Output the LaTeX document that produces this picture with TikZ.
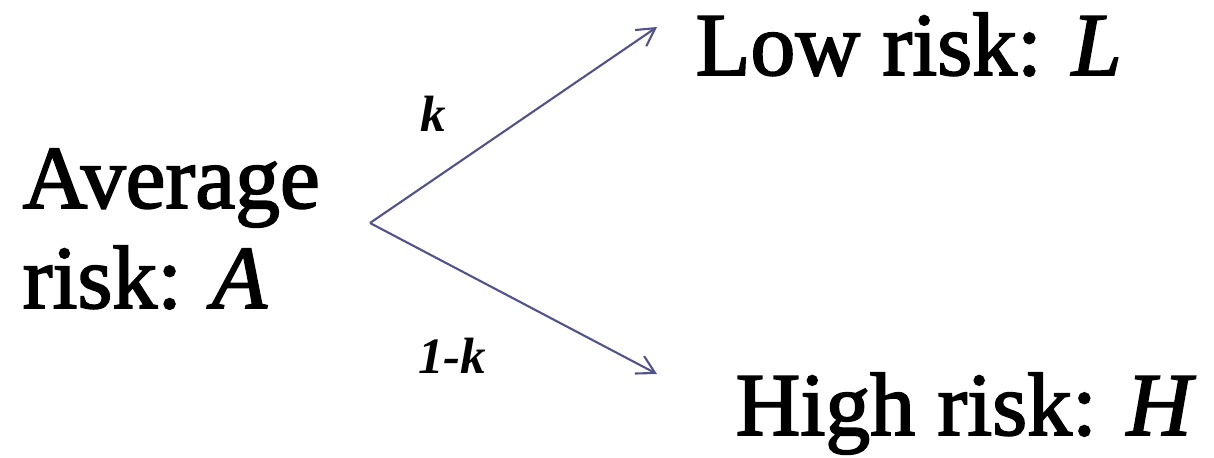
\documentclass[tikz,border=0pt]{standalone}
\usepackage{fontspec}
\setmainfont{Liberation Serif}
\usetikzlibrary{arrows.meta}
\definecolor{arrowblue}{RGB}{82,82,140}
\tikzset{
  big/.style={font=\fontsize{25.5}{28.45}\selectfont\addfontfeature{FakeBold=2}, inner sep=0pt, align=left},
  prob/.style={font=\fontsize{14.5}{17}\selectfont\bfseries\itshape, inner sep=0pt},
  branch/.style={draw=arrowblue, line width=0.6pt, -{Straight Barb[length=5pt,width=5.6pt,line width=0.6pt]}}
}
\begin{document}
\begin{tikzpicture}[x=0.01cm,y=-0.01cm]
\useasboundingbox (0,0) rectangle (1214,458);
\node[big, anchor=base west] (avg) at (22,308) {Average\\risk: \textit{A}};
\node[big, anchor=base west] (low) at (695,75) {Low risk: \textit{L}};
\node[big, anchor=base west] (high) at (735,435) {High risk: \textit{H}};
\coordinate (v) at (370,223);
\coordinate (lowend) at (657,27);
\coordinate (highend) at (657,374);
\draw[branch] (v) -- (lowend);
\draw[branch] (v) -- (highend);
\node[prob] (k) at (433,114) {k};
\node[prob] (k1) at (452,356) {1-k};
\end{tikzpicture}
\end{document}
